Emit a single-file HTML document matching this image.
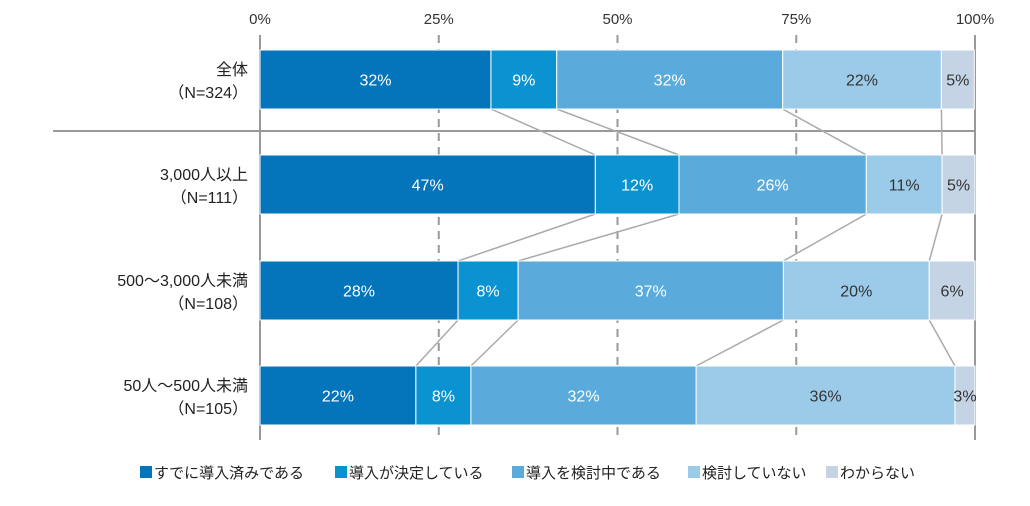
<!DOCTYPE html>
<html><head><meta charset="utf-8"><style>
body{margin:0;background:#fff;font-family:"Liberation Sans","Noto Sans CJK JP",sans-serif}
</style></head><body>
<svg id="c" width="1030" height="501" font-family="Liberation Sans, Noto Sans CJK JP, sans-serif"></svg>
<script>
const categories=["全体","3,000人以上","500～3,000人未満","50人～500人未満"];
const sampleSizes=["（N=324）","（N=111）","（N=108）","（N=105）"];
const seriesNames=["すでに導入済みである","導入が決定している","導入を検討中である","検討していない","わからない"];
const s1=[32.3,46.9,27.7,21.8];
const s2=[9.2,11.7,8.4,7.7];
const s3=[31.6,26.2,37.1,31.5];
const s4=[22.2,10.6,20.4,36.2];
const s5=[4.6,4.6,6.4,2.8];
const tickLabels=["0%","25%","50%","75%","100%"];
const tickValues=[0,25,50,75,100];
const series=[s1,s2,s3,s4,s5];
const colors=["#0474bb","#0b93d1","#5aabdc","#9ccbea","#c4d4e5"];
const textColors=["#fff","#fff","#fff","#333","#333"];
const svg=document.getElementById('c');const NS="http://www.w3.org/2000/svg";
const x=v=>260+v*7.15;
const rowTop=[50,155,261,366],barH=59;
const y=i=>rowTop[i];
function mk(t,a,p){const e=document.createElementNS(NS,t);for(const k in a)e.setAttribute(k,a[k]);(p||svg).appendChild(e);return e;}
// grid
tickValues.forEach((v,i)=>{
 const g=mk('line',{x1:x(v),x2:x(v),y1:35,y2:440,stroke:'#999','stroke-width':2,'stroke-dasharray':(v>0&&v<100)?'8,6':''});
 
 
 const t=mk('text',{x:x(v),y:24,'text-anchor':'middle','font-size':15,fill:'#333'});t.textContent=tickLabels[i];
 
 
});
const sep=mk('line',{x1:53,x2:975,y1:131,y2:131,stroke:'#999','stroke-width':2});


// bars & connectors
const cum=categories.map((_,i)=>{let c=0;return series.map(s=>c+=s[i]);});
for(let i=0;i<categories.length-1;i++){
 for(let k=0;k<4;k++){
  const l=mk('line',{x1:x(cum[i][k]),y1:y(i)+barH,x2:x(cum[i+1][k]),y2:y(i+1),stroke:'#aaa','stroke-width':1.5});
  
  
 }
}
categories.forEach((c,i)=>{
 let start=0;
 series.forEach((s,k)=>{
  const r=mk('rect',{x:x(start),y:y(i),width:x(start+s[i])-x(start),height:barH,fill:colors[k],stroke:'#fff','stroke-width':1});
  
  
  const t=mk('text',{x:(x(start)+x(start+s[i]))/2,y:y(i)+barH/2+6,'text-anchor':'middle','font-size':16,fill:textColors[k]});
  t.textContent=Math.round(s[i])+'%';
  
  
  start+=s[i];
 });
 const a=mk('text',{x:248,y:y(i)+25,'text-anchor':'end','font-size':16,fill:'#222'});a.textContent=c;
 
 
 const b=mk('text',{x:248,y:y(i)+48,'text-anchor':'end','font-size':16,fill:'#222'});b.textContent=sampleSizes[i];
 
 
});
// legend
const lx=[140,335,512,688,826];
seriesNames.forEach((n,k)=>{
 const r=mk('rect',{x:lx[k],y:466,width:12,height:12,fill:colors[k]});
 
 
 const t=mk('text',{x:lx[k]+14,y:478,'font-size':15,fill:'#222'});t.textContent=n;
 
 
});
</script>
</body></html>
